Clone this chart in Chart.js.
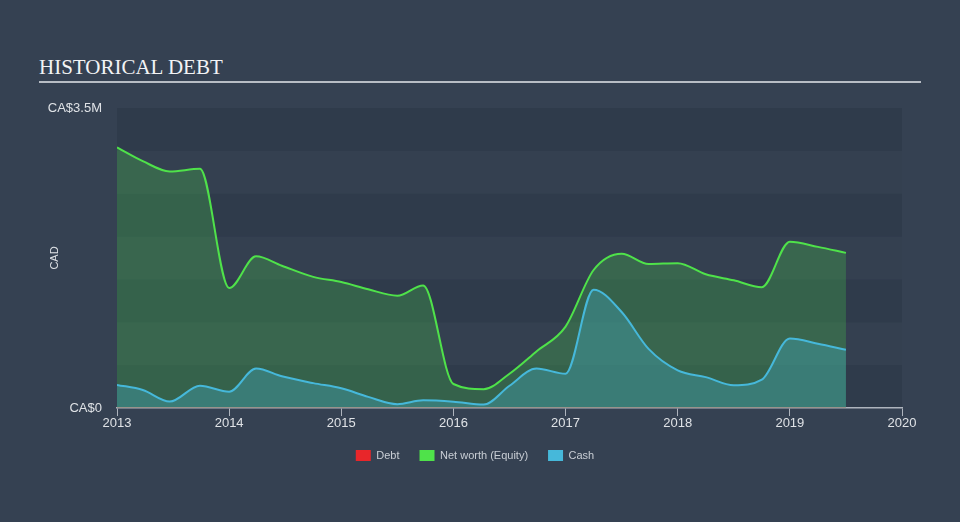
<!DOCTYPE html>
<html>
<head>
<meta charset="utf-8">
<script src="https://cdn.jsdelivr.net/npm/chart.js@4/dist/chart.umd.min.js"></script>
<style>
  html, body { margin: 0; padding: 0; background: #354152; }
  #wrap { position: relative; width: 960px; height: 522px; overflow: hidden; background: #354152; }
  #title { position: absolute; left: 39px; top: 56px; font-family: "Liberation Serif", "Times New Roman", serif; font-size: 21px; line-height: 22px; color: #f2f3f5; white-space: nowrap; }
  #rule { position: absolute; left: 39px; top: 81px; width: 882px; height: 2px; background: #b8bdc5; }
  canvas { position: absolute; left: 0; top: 0; }
</style>
</head>
<body>
<div id="wrap">
  <div id="title">HISTORICAL DEBT</div>
  <div id="rule"></div>
  <canvas id="c" width="960" height="522"></canvas>
</div>
<script>
// ---- data (decimal years, values in CAD) ----
const dates = [2013.0, 2013.23, 2013.47, 2013.74, 2014.0, 2014.24, 2014.47, 2014.75,
               2015.0, 2015.24, 2015.5, 2015.73, 2016.0, 2016.27, 2016.5, 2016.74,
               2017.0, 2017.25, 2017.5, 2017.74, 2018.0, 2018.25, 2018.5, 2018.75,
               2019.0, 2019.25, 2019.5];
const debt = [0,0,0,0,0,0,0,0,0,0,0,0,0,0,0,0,0,0,0,0,0,0,0,0,0,0,0];
const netWorth = [3.04e6, 2.88e6, 2.76e6, 2.79e6, 1.40e6, 1.77e6, 1.66e6, 1.53e6,
                  1.47e6, 1.385e6, 1.31e6, 1.43e6, 0.28e6, 0.22e6, 0.40e6, 0.66e6,
                  0.95e6, 1.61e6, 1.80e6, 1.68e6, 1.69e6, 1.56e6, 1.49e6, 1.41e6,
                  1.94e6, 1.88e6, 1.81e6];
const cash = [0.27e6, 0.21e6, 0.075e6, 0.26e6, 0.19e6, 0.46e6, 0.37e6, 0.29e6,
              0.23e6, 0.13e6, 0.045e6, 0.09e6, 0.074e6, 0.04e6, 0.26e6, 0.46e6,
              0.40e6, 1.38e6, 1.12e6, 0.69e6, 0.44e6, 0.36e6, 0.265e6, 0.33e6,
              0.81e6, 0.75e6, 0.68e6];
const seriesNames = ['Debt', 'Net worth (Equity)', 'Cash'];
const yTickLabels = { 0: 'CA$0', 3500000: 'CA$3.5M' };
const xMin = 2013, xMax = 2020;
const yMax = 3500000;

const toXY = (vals) => vals.map((v, i) => ({ x: dates[i], y: v }));

const bandPlugin = {
  id: 'bands',
  beforeDraw(chart) {
    const { ctx, chartArea, scales } = chart;
    const y = scales.y;
    ctx.save();
    for (let i = 0; i < 7; i++) {
      const v0 = i * 500000, v1 = (i + 1) * 500000;
      const p0 = y.getPixelForValue(v0), p1 = y.getPixelForValue(v1);
      ctx.fillStyle = (i % 2 === 0) ? '#2f3b4b' : '#344050';
      ctx.fillRect(chartArea.left, p1, chartArea.right - chartArea.left, p0 - p1);
    }
    ctx.restore();
  }
};

new Chart(document.getElementById('c'), {
  type: 'line',
  data: {
    datasets: [
      { label: seriesNames[0], data: toXY(debt), borderColor: 'rgba(232,38,42,0.55)', backgroundColor: 'rgba(232,38,42,0)',
        borderWidth: 1, pointRadius: 0, fill: false, order: 0 },
      { label: seriesNames[1], data: toXY(netWorth), borderColor: '#4fe24a', backgroundColor: 'rgba(76,226,76,0.24)',
        borderWidth: 2, pointRadius: 0, fill: 'origin', cubicInterpolationMode: 'monotone', order: 2 },
      { label: seriesNames[2], data: toXY(cash), borderColor: '#46b8da', backgroundColor: 'rgba(70,185,220,0.3)',
        borderWidth: 2, pointRadius: 0, fill: 'origin', cubicInterpolationMode: 'monotone', order: 1 }
    ]
  },
  options: {
    responsive: false,
    animation: false,
    events: [],
    layout: { padding: { left: 48, right: 58, top: 108, bottom: 51 } },
    scales: {
      x: {
        type: 'linear', min: xMin, max: xMax,
        ticks: { stepSize: 1, color: '#dfe2e6', padding: 0, font: { family: 'Liberation Sans, Arial, sans-serif', size: 13 },
                 callback: (v) => String(v) },
        grid: { drawOnChartArea: false, drawTicks: true, tickLength: 8, color: '#aeb4bd', lineWidth: 1 },
        border: { display: true, color: '#aeb4bd', width: 1.5 },
        afterFit(scale) { scale.height = 22; }
      },
      y: {
        min: 0, max: yMax,
        ticks: { stepSize: 500000, color: '#dfe2e6', padding: 15, font: { family: 'Liberation Sans, Arial, sans-serif', size: 13 },
                 callback: (v) => (yTickLabels[v] !== undefined ? yTickLabels[v] : '') },
        grid: { display: false, drawTicks: false },
        border: { display: false },
        title: { display: true, text: 'CAD', color: '#dfe2e6', padding: 0, font: { family: 'Liberation Sans, Arial, sans-serif', size: 11 } },
        afterFit(scale) { scale.width = 69; }
      }
    },
    plugins: {
      legend: {
        position: 'bottom',
        labels: {
          boxWidth: 15, boxHeight: 11, padding: 20, color: '#c9ced5',
          font: { family: 'Liberation Sans, Arial, sans-serif', size: 11 },
          sort: (a, b) => a.datasetIndex - b.datasetIndex,
          generateLabels(chart) {
            const items = Chart.defaults.plugins.legend.labels.generateLabels(chart);
            const solid = ['#e8262a', '#4fe24a', '#46b8da'];
            items.forEach((it) => { it.fillStyle = solid[it.datasetIndex]; it.strokeStyle = solid[it.datasetIndex]; it.lineWidth = 0; });
            return items;
          }
        }
      },
      tooltip: { enabled: false }
    }
  },
  plugins: [bandPlugin]
});
</script>
</body>
</html>
